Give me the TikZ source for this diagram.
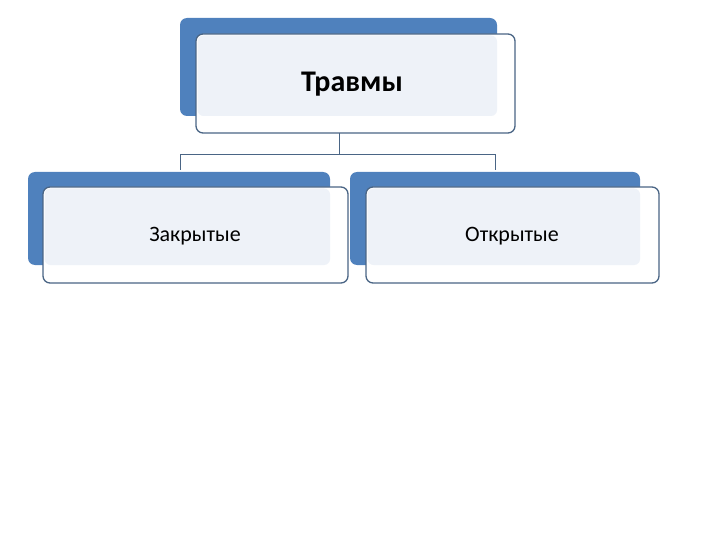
\documentclass[tikz,border=0pt]{standalone}
\usepackage{fontspec}
\setmainfont{Carlito}
\definecolor{bl}{HTML}{4F81BD}
\definecolor{lt}{HTML}{EEF2F8}
\definecolor{ln}{HTML}{4A6585}
\begin{document}
\begin{tikzpicture}[x=1pt,y=-1pt,
  back/.style={fill=bl,rounded corners=7pt},
  front/.style={draw=ln,line width=1.3pt,fill=white,rounded corners=7pt},
  inner/.style={fill=lt,rounded corners=6pt},
  conn/.style={draw=ln,line width=1pt}]
\useasboundingbox (0,0) rectangle (720,540);
% top
\fill[back] (180,18) rectangle (497,116);
\filldraw[front] (196,34) rectangle (515,133);
\fill[inner] (197.5,35.5) rectangle (497,116);
\node[font=\bfseries\fontsize{30}{34}\selectfont] (t) at (352,84) {Травмы};
% left
\fill[back] (28,172) rectangle (330,265);
\filldraw[front] (43,187) rectangle (348,283);
\fill[inner] (44.5,188.5) rectangle (330,265);
\node[font=\fontsize{22}{26}\selectfont] (l) at (195,236) {Закрытые};
% right
\fill[back] (350,172) rectangle (640,265);
\filldraw[front] (366,187) rectangle (659,283);
\fill[inner] (367.5,188.5) rectangle (640,265);
\node[font=\fontsize{22}{26}\selectfont] (r) at (512,236) {Открытые};
\coordinate (a) at (339,133);
\coordinate (b) at (180,170);
\coordinate (c) at (495,170);
\draw[conn] (a) -- (339,155) -| (b);
\draw[conn] (339,155) -| (c);
\end{tikzpicture}
\end{document}
